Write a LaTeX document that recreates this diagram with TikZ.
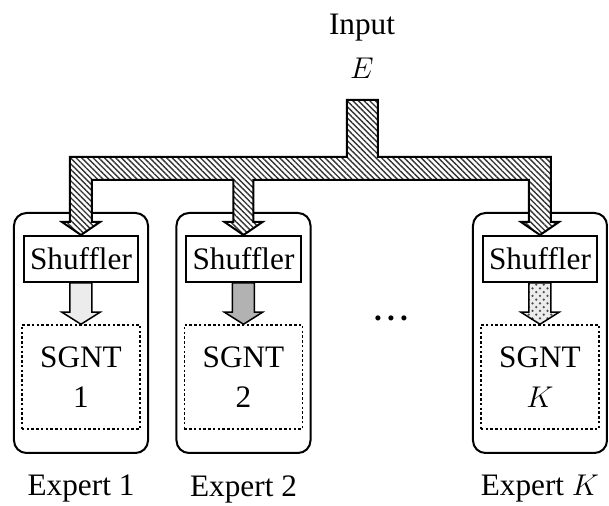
\documentclass[tikz,border=0pt]{standalone}
\usepackage{fontspec}
\setmainfont{Liberation Serif}
\usetikzlibrary{positioning,calc,patterns,patterns.meta}

\tikzset{
    expert/.style={draw, line width=0.8pt, rounded corners=5pt, minimum width=53.6pt, minimum height=96pt, inner sep=0pt},
    shuffler/.style={draw, line width=0.8pt, fill=white, minimum width=45.6pt, minimum height=18.4pt, inner sep=0pt},
    sgnt/.style={draw, line width=0.6pt, dash pattern=on 1pt off 0.9pt, minimum width=47.2pt, minimum height=41.6pt, inner sep=0pt, align=center},
    pipe/.style={draw, line width=0.8pt, preaction={fill=white}, pattern={Lines[angle=-45, distance=1.6pt, line width=0.55pt]}, pattern color=black!80},
    lightflow/.style={draw, line width=0.6pt, fill=gray!15},
    darkflow/.style={draw, line width=0.6pt, fill=gray!60},
    dotflow/.style={draw, line width=0.6pt, preaction={fill=gray!15}, pattern=crosshatch dots, pattern color=black!70},
}

\begin{document}
\begin{tikzpicture}[x=0.4pt, y=-0.4pt, font=\fontsize{12.5}{16}\selectfont]
    \useasboundingbox (0, 0) rectangle (609, 506);

    \node[align=center] (input) at (362, 46) {Input\\[1.5pt]$E$};
    \node (dots) at (391, 318) {\textbf{.\,.\,.}};

    % one expert per column: box, shuffler, network and the flow between them
    \foreach \cId/\cX/\cNum/\cFill in {1/81/1/lightflow, 2/243.5/2/darkflow, K/540/$K$/dotflow} {
        \node[expert] (expert\cId) at (\cX, 333) {};
        \node[shuffler] (shuffler\cId) at (\cX, 259) {Shuffler};
        \node[sgnt] (sgnt\cId) at (\cX, 377) {SGNT\\\cNum};
        \node[below=5pt of expert\cId] (label\cId) {Expert \cNum};
        \draw[\cFill] ($(shuffler\cId.south)+(-11, 0)$) -- ($(sgnt\cId.north)+(-11, -12)$)
            -- ($(sgnt\cId.north)+(-19, -12)$) -- (sgnt\cId.north) -- ($(sgnt\cId.north)+(19, -12)$)
            -- ($(sgnt\cId.north)+(11, -12)$) -- ($(shuffler\cId.south)+(11, 0)$) -- cycle;
    }

    % input bus splitting to every shuffler
    \draw[pipe] (347, 100) -- (378, 100) -- (378, 157) -- (551, 157) -- (551, 222) -- (559, 222)
        -- (shufflerK.north) -- (521, 222) -- (529, 222) -- (529, 180)
        -- (253.5, 180) -- (253.5, 222) -- (262.5, 222) -- (shuffler2.north) -- (224.5, 222)
        -- (233.5, 222) -- (233.5, 180) -- (92, 180) -- (92, 222) -- (100, 222)
        -- (shuffler1.north) -- (62, 222) -- (70, 222) -- (70, 157) -- (347, 157) -- cycle;
\end{tikzpicture}
\end{document}
